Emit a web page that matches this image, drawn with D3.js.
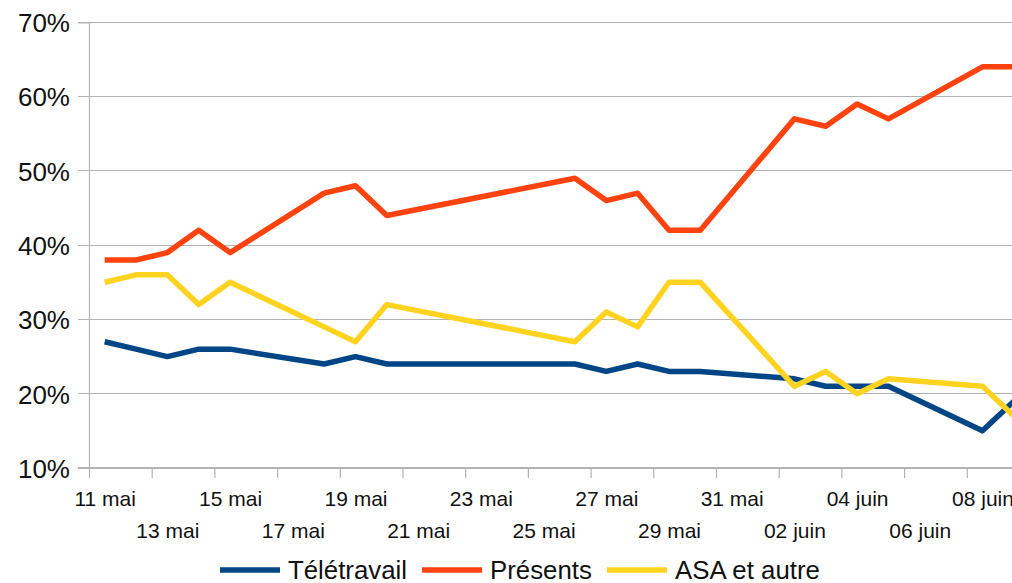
<!DOCTYPE html>
<html>
<head>
<meta charset="utf-8">
<script src="https://cdn.jsdelivr.net/npm/d3@7"></script>
<style>
  body { margin: 0; background: #fff; }
  svg { display: block; font-family: "Liberation Sans", Arial, sans-serif; }
</style>
</head>
<body>
<svg id="chart"></svg>
<script>
// dates of each reading (2020)
const dates = ["2020-05-11", "2020-05-12", "2020-05-13", "2020-05-14", "2020-05-15",
  "2020-05-18", "2020-05-19", "2020-05-20", "2020-05-26", "2020-05-27",
  "2020-05-28", "2020-05-29", "2020-05-30", "2020-06-02", "2020-06-03",
  "2020-06-04", "2020-06-05", "2020-06-08", "2020-06-09"];

const teletravail = [27, 26, 25, 26, 26, 24, 25, 24, 24, 23, 24, 23, 23, 22, 21, 21, 21, 15, 19];
const presents    = [38, 38, 39, 42, 39, 47, 48, 44, 49, 46, 47, 42, 42, 57, 56, 59, 57, 64, 64];
const asa         = [35, 36, 36, 32, 35, 29, 27, 32, 27, 31, 29, 35, 35, 21, 23, 20, 22, 21, 17];

const seriesNames = ["Télétravail", "Présents", "ASA et autre"];
const seriesColors = ["#004586", "#ff420e", "#ffd320"];
const yTicks = [10, 20, 30, 40, 50, 60, 70];
const frMonths = ["janv.", "févr.", "mars", "avr.", "mai", "juin", "juil.", "août", "sept.", "oct.", "nov.", "déc."];

const width = 1012, height = 583;
const svg = d3.select("#chart").attr("width", width).attr("height", height);

const parse = d3.timeParse("%Y-%m-%d");
// points and labels sit in the middle of their day
const noon = s => d3.timeHour.offset(parse(s), 12);

const x = d3.scaleTime()
  .domain([parse("2020-05-11"), parse("2020-06-10")])
  .range([89, 89 + 30 * 31.35]);
const y = d3.scaleLinear().domain([10, 70]).range([468, 22.3]);

const fmt = d => d3.timeFormat("%d")(d) + " " + frMonths[d.getMonth()];

// horizontal grid
svg.append("g")
  .selectAll("line")
  .data(yTicks)
  .join("line")
  .attr("x1", 78).attr("x2", width)
  .attr("y1", d => y(d)).attr("y2", d => y(d))
  .attr("stroke", "#b3b3b3").attr("stroke-width", 1.2)
  .attr("shape-rendering", "crispEdges");

// y axis
const yAxis = svg.append("g")
  .attr("transform", "translate(89,0)")
  .call(d3.axisLeft(y).tickValues(yTicks).tickSize(11).tickFormat(d => d + "%"));
yAxis.select(".domain").attr("stroke", "#b3b3b3").attr("stroke-width", 1.2);
yAxis.selectAll(".tick line").remove();
yAxis.selectAll("text")
  .attr("font-size", 26).attr("fill", "#111")
  .attr("font-family", "Liberation Sans, Arial, sans-serif")
  .attr("x", -19).attr("dy", "0.36em");

// x axis: tick marks at day boundaries, labels centred on the day
const xTickVals = d3.timeDay.range(parse("2020-05-11"), parse("2020-06-09"), 2);
const xAxis = svg.append("g")
  .attr("transform", "translate(0,468)")
  .call(d3.axisBottom(x).tickValues(xTickVals).tickSize(10).tickFormat(fmt));
xAxis.select(".domain").remove();
xAxis.selectAll(".tick line").attr("stroke", "#b3b3b3").attr("stroke-width", 1.2);
const halfDay = x(noon("2020-05-11")) - x(parse("2020-05-11"));
xAxis.selectAll("text")
  .attr("font-size", 21).attr("fill", "#111")
  .attr("font-family", "Liberation Sans, Arial, sans-serif")
  .attr("dy", null)
  .attr("x", halfDay)
  .attr("y", (d, i) => i % 2 === 0 ? 38 : 70);

// lines
const series = [teletravail, presents, asa].map((vals, i) => ({
  name: seriesNames[i],
  color: seriesColors[i],
  points: vals.map((v, j) => ({ date: noon(dates[j]), value: v }))
}));

const line = d3.line().x(d => x(d.date)).y(d => y(d.value));

svg.append("g")
  .selectAll("path")
  .data(series)
  .join("path")
  .attr("d", d => line(d.points))
  .attr("fill", "none")
  .attr("stroke", d => d.color)
  .attr("stroke-width", 5.5)
  .attr("stroke-linejoin", "round");

// legend
const legendX = [220, 422, 607];
const legend = svg.append("g")
  .selectAll("g")
  .data(series)
  .join("g")
  .attr("transform", (d, i) => `translate(${legendX[i]},570)`);
legend.append("line")
  .attr("x1", 0).attr("x2", 60)
  .attr("stroke", d => d.color).attr("stroke-width", 5.5);
legend.append("text")
  .attr("x", 68).attr("y", 9)
  .attr("font-size", 25.8).attr("fill", "#111")
  .text(d => d.name);
</script>
</body>
</html>
